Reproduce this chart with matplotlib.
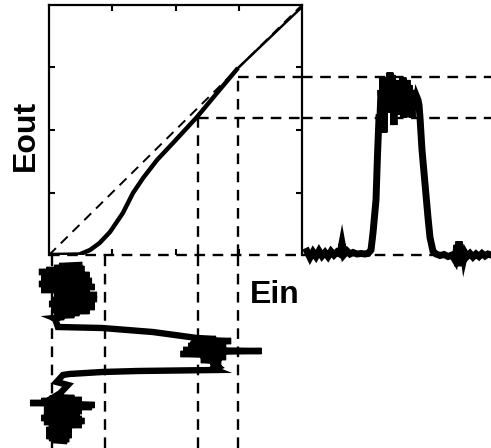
import matplotlib
matplotlib.use("Agg")
import matplotlib.pyplot as plt

plt.rcParams['font.family'] = ['Liberation Sans', 'DejaVu Sans']

# ---- transfer curve (Ein -> Eout) ----
curve_ein = [0.0, 0.12, 0.162, 0.2, 0.241, 0.292, 0.332, 0.372, 0.427, 0.49, 0.585, 0.664, 0.747]
curve_eout = [0.0, 0.002, 0.02, 0.048, 0.092, 0.168, 0.248, 0.308, 0.38, 0.448, 0.552, 0.648, 0.748]
tail_ein = [0.747, 1.0]
tail_eout = [0.748, 0.992]

# guide levels
ein_levels = [0.012, 0.22, 0.59, 0.747]
ein_level_tops = [0.0, 0.0, 0.548, 0.712]
eout_levels = [0.0, 0.548, 0.712]
eout_level_starts = [0.0, 0.59, 0.747]

# ---- output pulse (time, Eout) ----
out_t = [5, 8, 11, 14, 17, 20, 23, 26, 29, 32, 35, 38, 40, 42, 45, 48, 51, 55, 59, 63,
         66, 69, 71, 74, 75.5,
         77, 78, 79, 80, 81, 82, 83, 84, 85, 86, 87, 88, 89, 90, 91, 92, 93, 94, 95, 96, 97, 98, 99,
         100, 101, 102, 103, 104, 105, 106, 107, 108, 109, 110, 111, 112, 113, 114, 115, 116, 117,
         118, 120, 124, 126, 128, 131,
         134, 138, 142, 146, 150, 153, 155, 156, 157, 158, 159, 160, 161, 162, 163, 165, 168, 171, 174, 177, 180, 183, 186, 189]
out_e = [0.015, -0.01, 0.012, -0.006, 0.016, -0.004, 0.01, -0.006, 0.014, 0.0, 0.012, 0.004, 0.047, 0.002, 0.016, 0.004, 0.01, 0.004, 0.006, 0.004,
         0.006, 0.02, 0.088, 0.22, 0.40,
         0.55, 0.55, 0.66, 0.60, 0.71, 0.49, 0.68, 0.58, 0.70, 0.62, 0.66, 0.73, 0.57, 0.72, 0.60, 0.52, 0.68, 0.60, 0.70,
         0.56, 0.66, 0.62, 0.69, 0.58, 0.71, 0.55, 0.66, 0.60, 0.70, 0.56, 0.68, 0.58, 0.64,
         0.55, 0.66, 0.60, 0.64, 0.60, 0.63, 0.62, 0.60,
         0.55, 0.42, 0.24, 0.15, 0.07, 0.015,
         0.004, -0.002, 0.002, -0.006, 0.0, -0.02, 0.04, -0.045, 0.055, -0.03, 0.03, -0.02, 0.02, -0.01, 0.008, -0.006, 0.006, -0.008, 0.004, -0.006, 0.006, -0.004, 0.004, 0.0]

# ---- input pulse (time, Ein), time runs downward ----
in_t = [10, 11, 12, 13, 14, 15, 16, 17, 18, 19, 20, 21, 22, 23, 24, 25, 26, 27, 28, 29,
        30, 31, 32, 33, 34, 35, 36, 37, 38, 39, 40, 41, 42, 43, 44, 45, 46, 47, 48, 49,
        50, 51, 52, 53, 54, 55, 56, 57, 58, 59, 60, 61, 62, 63, 64, 65, 68, 72,
        73, 77, 83,
        84, 85, 86, 87, 88, 89, 90, 91, 92, 93, 94, 95, 96, 97, 98, 99,
        100, 101, 102, 103, 104, 105, 106, 107, 108, 109, 110, 112, 114,
        115, 116, 117, 119,
        120, 127, 130, 138,
        142, 143, 144, 145, 146, 147, 148, 149, 150, 151, 152, 153, 154, 155, 156, 157, 158, 159,
        160, 161, 162, 163, 164, 165, 166, 167, 168, 169, 170, 171, 172, 173, 174, 175, 176, 177, 178, 179,
        180, 181, 182, 183, 184, 185, 186]
in_e = [0.12, 0.04, 0.10, 0.02, 0.14, -0.01, 0.08, -0.04, 0.12, 0.02, 0.16, 0.0, 0.10, -0.03, 0.15, 0.03, 0.17, -0.02, 0.12, -0.04,
        0.14, 0.02, 0.18, 0.0, 0.11, -0.03, 0.16, 0.02, 0.12, 0.05, 0.19, 0.02, 0.15, 0.04, 0.19, 0.01, 0.17, 0.03, 0.18, 0.0,
        0.15, 0.02, 0.18, 0.03, 0.13, 0.01, 0.16, 0.04, 0.12, 0.02, 0.10, 0.03, 0.06, 0.02, 0.03, 0.025, 0.03, 0.035,
        0.21, 0.41, 0.585,
        0.66, 0.60, 0.72, 0.62, 0.70, 0.56, 0.68, 0.55, 0.66, 0.60, 0.70, 0.53, 0.84, 0.58, 0.68, 0.52,
        0.66, 0.60, 0.70, 0.62, 0.68, 0.60, 0.66, 0.64, 0.68, 0.64, 0.66, 0.67, 0.65,
        0.66, 0.35, 0.21, 0.08,
        0.055, 0.03, 0.075, 0.045,
        0.02, 0.10, 0.0, 0.13, -0.03, 0.12, -0.075, 0.10, 0.18, 0.02, 0.17, 0.0, 0.12, -0.02, 0.13, 0.0, 0.11, 0.01,
        0.09, -0.02, 0.12, -0.03, 0.13, 0.0, 0.14, -0.02, 0.10, 0.01, 0.13, 0.0, 0.08, 0.0, 0.09, -0.01, 0.07, 0.0, 0.08, 0.0,
        0.09, -0.01, 0.07, 0.0, 0.08, 0.01, 0.06]

W, H = 491, 448
fig = plt.figure(figsize=(W / 100, H / 100), dpi=100)

def frac(x0, y0, x1, y1):
    return [x0 / W, 1 - y1 / H, (x1 - x0) / W, (y1 - y0) / H]

dash = dict(color='black', linestyle=(0, (4.5, 3.2)), linewidth=1.7)

# main axes
ax = fig.add_axes(frac(49, 5, 302, 255))
ax.set_xlim(0, 1)
ax.set_ylim(0, 1)
ax.plot([0, 1], [0, 1], color='black', linestyle=(0, (5, 3.5)), linewidth=1.4)
ax.plot(tail_ein, tail_eout, color='black', linewidth=1.8, solid_capstyle='butt')
ax.plot(curve_ein, curve_eout, color='black', linewidth=3.2, solid_capstyle='butt')
ax.vlines(ein_levels, 0, ein_level_tops, clip_on=False, **dash)
ax.hlines(eout_levels, eout_level_starts, 1, clip_on=False, **dash)
ax.set_xticks([0.25, 0.5, 0.75])
ax.set_yticks([0.25, 0.5, 0.75])
ax.tick_params(direction='in', length=4, width=1.5, labelbottom=False, labelleft=False,
               top=True, right=True, bottom=True, left=True)
for s in ['left', 'right', 'top']:
    ax.spines[s].set_linewidth(1.6)
ax.spines['bottom'].set_visible(False)

# right axes: output pulse
axr = fig.add_axes(frac(302, 5, 491, 255))
axr.set_xlim(0, 189)
axr.set_ylim(0, 1)
axr.axis('off')
for lv in eout_levels:
    axr.axhline(lv, clip_on=False, **dash)
axr.plot(out_t, out_e, color='black', linewidth=5.0, solid_joinstyle='miter', clip_on=False)

# bottom axes: input pulse
axb = fig.add_axes(frac(49, 255, 302, 448))
axb.set_xlim(0, 1)
axb.set_ylim(193, 0)
axb.axis('off')
for lv in ein_levels:
    axb.axvline(lv, **dash)
axb.plot(in_e, in_t, color='black', linewidth=4.6, solid_joinstyle='miter', clip_on=False)

fig.text(26 / W, 1 - 135 / H, 'Eout', rotation=90, fontsize=23, fontweight='bold',
         ha='center', va='center')
fig.text(250 / W, 1 - 303 / H, 'Ein', fontsize=23, fontweight='bold', ha='left', va='baseline')

fig.savefig('out.png', dpi=100)
